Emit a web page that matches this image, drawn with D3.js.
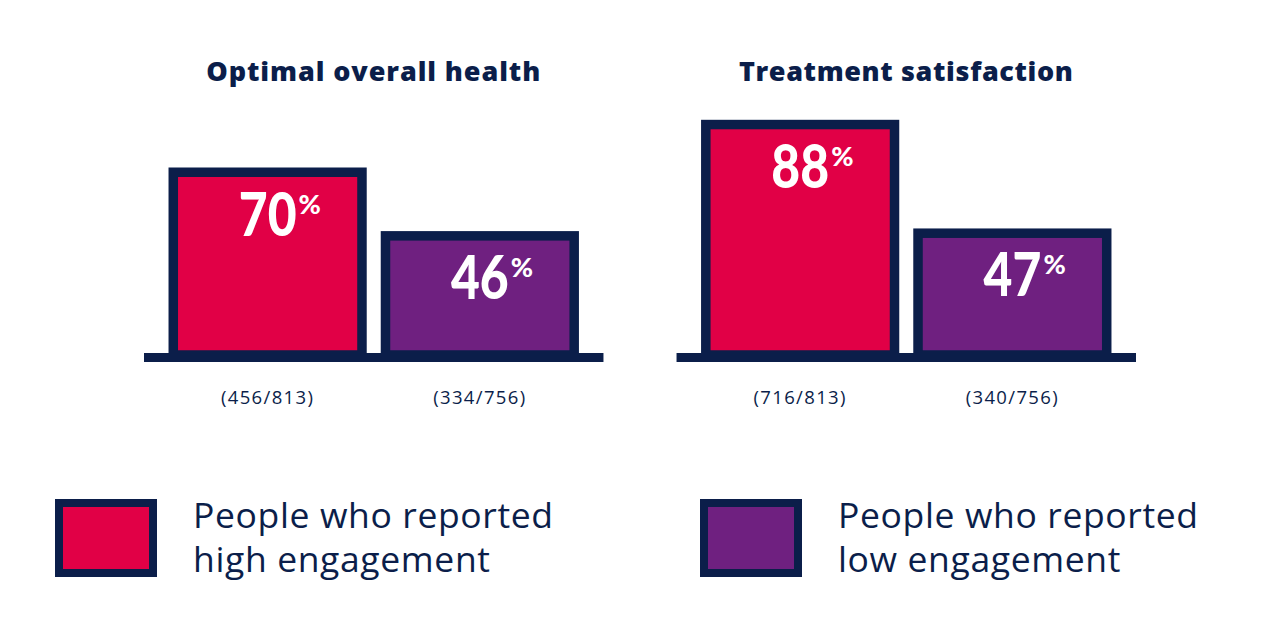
<!DOCTYPE html>
<html>
<head>
<meta charset="utf-8">
<script src="https://cdn.jsdelivr.net/npm/d3@7"></script>
<style>
  html, body { margin: 0; padding: 0; background: #ffffff; }
  svg { display: block; }
  text { font-family: "Open Sans", Lato, sans-serif; }
</style>
</head>
<body>
<svg id="chart" width="1280" height="640"></svg>
<script>
// ---- data ----
const panels = ["Optimal overall health", "Treatment satisfaction"];
const groups = ["high", "low"];
const valuesHigh = [70, 88];
const valuesLow = [46, 47];
const countsHigh = ["(456/813)", "(716/813)"];
const countsLow = ["(334/756)", "(340/756)"];
const legendLabels = [
  ["People who reported", "high engagement"],
  ["People who reported", "low engagement"]
];

// ---- styles ----
const NAVY = "#0b1e4a";
const RED = "#e10046";
const PURPLE = "#6f2080";
const colors = { high: RED, low: PURPLE };
const SW = 9.5;          // bar outline width
const BASE_Y = 353;      // top of baseline
const BASE_H = 9;

const svg = d3.select("#chart");

const panelX = d3.scaleBand().domain(panels).range([144, 1136]).paddingInner(73 / 532);
const y = d3.scaleLinear().domain([0, 100]).range([BASE_Y, BASE_Y - 265]);

function fitWidth(sel, target) {
  const node = sel.node();
  const n = sel.text().length;
  const w = node.getComputedTextLength();
  const ls = (target - w) / (n - 1);
  sel.attr("letter-spacing", ls.toFixed(3));
  return ls;
}

panels.forEach((p, i) => {
  const x0 = panelX(p), x1 = x0 + panelX.bandwidth();
  const g = svg.append("g");
  const x = d3.scaleBand().domain(groups).range([x0, x1])
    .paddingInner(14 / 212).paddingOuter(24.5 / 212);
  const rows = [
    { key: "high", v: valuesHigh[i], c: countsHigh[i] },
    { key: "low", v: valuesLow[i], c: countsLow[i] }
  ];

  // title
  const t = g.append("text")
    .attr("x", (x0 + x1) / 2).attr("y", 81)
    .attr("text-anchor", "middle")
    .attr("fill", NAVY).attr("font-weight", 800).attr("font-size", 27)
    .text(p);
  fitWidth(t, 334);

  // bars
  g.selectAll("rect.bar").data(rows).join("rect")
    .attr("class", "bar")
    .attr("x", d => x(d.key) + SW / 2)
    .attr("y", d => y(d.v) + SW / 2)
    .attr("width", x.bandwidth() - SW)
    .attr("height", d => BASE_Y - y(d.v) - SW / 2 + 2)
    .attr("fill", d => colors[d.key])
    .attr("stroke", NAVY).attr("stroke-width", SW);

  // baseline
  g.append("rect")
    .attr("x", x0).attr("y", BASE_Y)
    .attr("width", x1 - x0).attr("height", BASE_H)
    .attr("fill", NAVY);

  // value labels
  rows.forEach(d => {
    const cx = x(d.key) + x.bandwidth() / 2;
    const lg = g.append("g")
      .attr("transform", `translate(${cx},${y(d.v) + 68})`);
    lg.append("text")
      .attr("transform", "scale(0.83,1)")
      .attr("text-anchor", "middle")
      .attr("fill", "#ffffff").attr("font-weight", 900).attr("font-size", 60)
      .style("font-family", "Lato, sans-serif")
      .text(d.v);
    lg.append("text")
      .attr("x", 31).attr("y", -22)
      .attr("fill", "#ffffff").attr("font-weight", 900).attr("font-size", 27)
      .style("font-family", "Lato, sans-serif")
      .text("%");
    // counts
    const c = g.append("text")
      .attr("x", cx).attr("y", 404)
      .attr("text-anchor", "middle")
      .attr("fill", NAVY).attr("font-weight", 400).attr("font-size", 18.5)
      .text(d.c);
    fitWidth(c, 92);
  });
});

// legend
const legendX = [55, 700];
groups.forEach((k, i) => {
  const g = svg.append("g");
  g.append("rect")
    .attr("x", legendX[i] + 4).attr("y", 499 + 4)
    .attr("width", 102 - 8).attr("height", 78 - 8)
    .attr("fill", colors[k]).attr("stroke", NAVY).attr("stroke-width", 8);
  const tx = legendX[i] + 138;
  const l1 = g.append("text").attr("x", tx).attr("y", 528)
    .attr("fill", NAVY).attr("font-size", 35.5).attr("font-weight", 400)
    .text(legendLabels[i][0]);
  const ls = fitWidth(l1, 360);
  g.append("text").attr("x", tx).attr("y", 572)
    .attr("fill", NAVY).attr("font-size", 35.5).attr("font-weight", 400)
    .attr("letter-spacing", ls.toFixed(3))
    .text(legendLabels[i][1]);
});
</script>
</body>
</html>
